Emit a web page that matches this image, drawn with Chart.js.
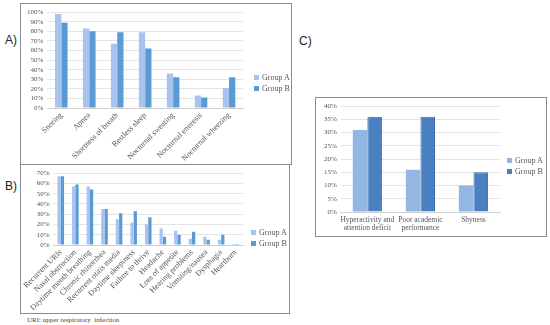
<!DOCTYPE html>
<html>
<head>
<meta charset="utf-8">
<script src="https://cdn.jsdelivr.net/npm/chart.js"></script>
<style>
  body { margin: 0; background: #fff; width: 550px; height: 325px; position: relative; overflow: hidden; font-family: "Liberation Sans", sans-serif; }
  .box { position: absolute; border: 1px solid #8c8c8c; background: #fff; }
  .lbl { position: absolute; font-size: 12px; color: #222; }
  .note { position: absolute; font-family: "Liberation Serif", serif; font-size: 7px; color: #444; }
  .leg { position: absolute; font-family: "Liberation Serif", serif; font-size: 8px; color: #555; line-height: 11px; white-space: nowrap; }
  .leg span { display: inline-block; width: 5px; height: 5px; margin-right: 3px; vertical-align: 0px; }
</style>
</head>
<body>
<div class="lbl" style="left:5px;top:33px;">A)</div>
<div class="lbl" style="left:5px;top:179px;">B)</div>
<div class="lbl" style="left:299px;top:34px;">C)</div>

<div class="box" style="left:20px;top:3px;width:270px;height:160px;"><canvas id="chartA" width="270" height="160"></canvas></div>
<div class="box" style="left:20px;top:164px;width:268px;height:148px;"><canvas id="chartB" width="268" height="148"></canvas></div>
<div class="box" style="left:315px;top:97px;width:230px;height:138px;"><canvas id="chartC" width="230" height="138"></canvas></div>
<div class="note" style="left:27px;top:316px;">URI: upper respiratory &nbsp;infection</div>

<div class="leg" id="legA" style="left:254px;top:72px;"></div>
<div class="leg" id="legB" style="left:251px;top:227px;"></div>
<div class="leg" id="legC" style="left:507px;top:155px;"></div>

<script>
// panel A
const symptomsA = ['Snoring', 'Apnea', 'Shortness of breath', 'Restless sleep', 'Nocturnal sweating', 'Nocturnal enuresis', 'Nocturnal wheezing'];
const groupA_A = [98, 83, 67, 79, 36, 13, 21];
const groupB_A = [89, 80, 79, 62, 32, 11, 32];

// panel B
const symptomsB = ['Recurrent URIs', 'Nasal obstruction', 'Daytime mouth breathing', 'Chronic rhinorrhea', 'Recurrent otitis media', 'Daytime sleepiness', 'Failure to thrive', 'Headache', 'Loss of appetite', 'Hearing problems', 'Vomiting/nausea', 'Dysphagia', 'Heartburn'];
const groupA_B = [67, 57, 57, 35, 25, 22, 20, 16, 14, 6, 8, 5, 1];
const groupB_B = [67, 59, 54, 35, 31, 33, 27, 8, 10, 13, 5, 10, 1];

// panel C
const symptomsC = [['Hyperactivity and', 'attention deficit'], ['Poor academic', 'performance'], 'Shyness'];
const groupA_C = [31, 16, 10];
const groupB_C = [36, 36, 15];

const serif = 'Liberation Serif';

function makeChart(id, labels, a, b, opts) {
  const chart = new Chart(document.getElementById(id), {
    type: 'bar',
    data: {
      labels: labels,
      datasets: [{
        label: 'Group A',
        data: a,
        backgroundColor: opts.colA,
        borderWidth: 0,
        categoryPercentage: opts.cat,
        barPercentage: 1
      }, {
        label: 'Group B',
        data: b,
        backgroundColor: opts.colB,
        borderColor: opts.borderB || opts.colB,
        borderWidth: opts.borderB ? 1 : 0,
        categoryPercentage: opts.cat,
        barPercentage: 1
      }]
    },
    options: {
      responsive: false,
      animation: false,
      layout: { padding: opts.pad },
      plugins: {
        legend: { display: false },
        tooltip: { enabled: false }
      },
      scales: {
        x: {
          grid: { display: false, drawTicks: false },
          border: { color: '#d0d0d0' },
          afterFit: s => { s.height = opts.xh; },
          ticks: {
            color: '#555', font: { family: serif, size: opts.xfont, lineHeight: 1.1 },
            maxRotation: opts.rot, minRotation: opts.rot, autoSkip: false, padding: opts.xpad
          }
        },
        y: {
          min: 0, max: opts.max,
          grid: { color: '#e4e4e4', drawTicks: false },
          border: { display: false },
          ticks: {
            stepSize: opts.step, padding: 4, autoSkip: false,
            color: '#555', font: { family: serif, size: 7 },
            callback: v => v + '%'
          }
        }
      }
    }
  });

  // html legend from the datasets
  let html = '';
  for (const ds of chart.data.datasets) {
    html += '<div><span style="background:' + ds.backgroundColor + '"></span>' + ds.label + '</div>';
  }
  document.getElementById(opts.leg).innerHTML = html;
  return chart;
}

makeChart('chartA', symptomsA, groupA_A, groupB_A, {
  colA: '#a6c4ee', colB: '#5b9bd5', cat: 0.45, max: 100, step: 10, rot: 45,
  xh: 56, xfont: 8, xpad: 3, leg: 'legA',
  pad: { left: 2, right: 48, top: 4, bottom: 0 }
});
makeChart('chartB', symptomsB, groupA_B, groupB_B, {
  colA: '#a6c4ee', colB: '#5b9bd5', cat: 0.45, max: 70, step: 10, rot: 45,
  xh: 68, xfont: 8, xpad: 3, leg: 'legB',
  pad: { left: 8, right: 46, top: 2, bottom: 0 }
});
makeChart('chartC', symptomsC, groupA_C, groupB_C, {
  colA: '#93b6e2', colB: '#4a80c2', borderB: '#3c6fae', cat: 0.55, max: 40, step: 5, rot: 0,
  xh: 24, xfont: 7.5, xpad: 4, leg: 'legC',
  pad: { left: 4, right: 46, top: 2, bottom: 0 }
});
</script>
</body>
</html>
